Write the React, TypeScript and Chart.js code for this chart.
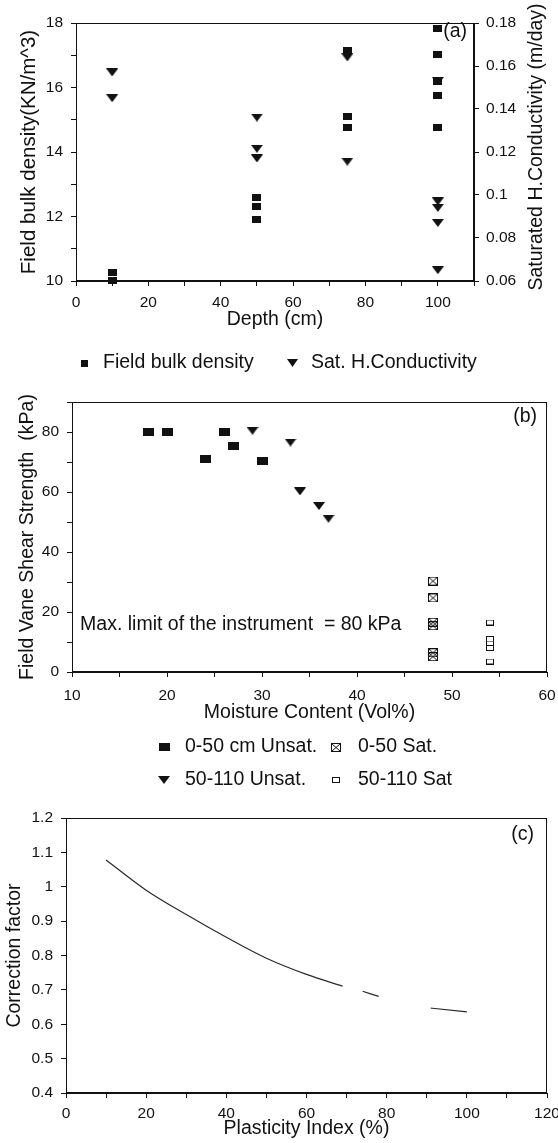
import React, { useEffect, useRef } from 'react';
import { Chart, registerables } from 'chart.js';

Chart.register(...registerables);

const FONT = "'Liberation Sans', Arial, sans-serif";
const INK = '#111';

// ---------- Panel (a): depth profile ----------
const depthBulk = [10, 10, 50, 50, 50, 75, 75, 75, 100, 100, 100, 100, 100];
const bulkDensity = [10.25, 10.02, 12.6, 12.3, 11.9, 17.16, 15.1, 14.75, 17.84, 17.03, 16.2, 15.74, 14.75];
const depthKsat = [10, 10, 50, 50, 50, 75, 75, 100, 100, 100, 100, 100];
const satConductivity = [0.157, 0.145, 0.136, 0.1215, 0.117, 0.164, 0.1155, 0.153, 0.097, 0.094, 0.087, 0.065];
const depthTickValues = [0, 10, 20, 30, 40, 50, 60, 70, 80, 90, 100, 110];
const depthTickLabels = [0, 20, 40, 60, 80, 100];
const bulkTickValues = [10, 11, 12, 13, 14, 15, 16, 17, 18];
const bulkTickLabels = [10, 12, 14, 16, 18];
const ksatTickValues = [0.06, 0.08, 0.1, 0.12, 0.14, 0.16, 0.18];

// ---------- Panel (b): vane shear strength ----------
const unsat0to50Moisture = [18, 20, 24, 26, 27, 30];
const unsat0to50Strength = [80, 80, 71, 80, 75.3, 70.2];
const sat0to50Moisture = [48, 48, 48, 48, 48, 48];
const sat0to50Strength = [30.3, 24.7, 16.6, 15.4, 6.4, 5.1];
const unsat50to110Moisture = [29, 33, 34, 36, 37];
const unsat50to110Strength = [80.4, 76.5, 60.2, 55.3, 51.1];
const sat50to110Moisture = [54, 54, 54, 54, 54];
const sat50to110Strength = [16.5, 11, 9.5, 8, 3.5];
const moistureTickValues = [10, 15, 20, 25, 30, 35, 40, 45, 50, 55, 60];
const moistureTickLabels = [10, 20, 30, 40, 50, 60];
const strengthTickValues = [0, 10, 20, 30, 40, 50, 60, 70, 80, 90];
const strengthTickLabels = [0, 20, 40, 60, 80];

// ---------- Panel (c): correction factor ----------
const plasticityIndex = [10, 20, 30, 40, 50, 60, 69, 71.5, 74, 78, 85, 91, 100];
const correctionFactor = [1.078, 0.99, 0.919, 0.853, 0.792, 0.745, 0.711, null, 0.696, 0.681, null, 0.647, 0.636];
const piTickValues = [0, 10, 20, 30, 40, 50, 60, 70, 80, 90, 100, 110, 120];
const piTickLabels = [0, 20, 40, 60, 80, 100, 120];
const cfTickValues = [0.4, 0.5, 0.6, 0.7, 0.8, 0.9, 1.0, 1.1, 1.2];

Chart.defaults.font.family = FONT;
Chart.defaults.color = INK;

function makeMarker(kind: string, w: number, h: number): HTMLCanvasElement {
  const c = document.createElement('canvas');
  c.width = w;
  c.height = h;
  const g = c.getContext('2d')!;
  g.fillStyle = INK;
  g.strokeStyle = INK;
  g.lineWidth = 1;
  if (kind === 'square') {
    g.fillRect(0, 0, w, h);
  } else if (kind === 'triangle') {
    g.beginPath();
    g.moveTo(0, 0);
    g.lineTo(w, 0);
    g.lineTo(w / 2, h);
    g.closePath();
    g.fill();
  } else if (kind === 'boxx') {
    g.strokeRect(0.5, 0.5, w - 1, h - 1);
    g.beginPath();
    g.moveTo(0.5, 0.5);
    g.lineTo(w - 0.5, h - 0.5);
    g.moveTo(w - 0.5, 0.5);
    g.lineTo(0.5, h - 0.5);
    g.stroke();
  } else if (kind === 'open') {
    g.fillStyle = '#fff';
    g.fillRect(0, 0, w, h);
    g.strokeRect(0.5, 0.5, w - 1, h - 1);
  }
  return c;
}

type TextItem = { text: string; x: number; y: number; size?: number; align?: CanvasTextAlign; rotate?: number; data?: boolean };
type LegendItem = { dataset: number; marker: HTMLCanvasElement; x: number; y: number; textX: number };

function makeExtras(texts: TextItem[], legend: LegendItem[]) {
  return {
    id: 'extras',
    afterDraw(chart: any) {
      const ctx: CanvasRenderingContext2D = chart.ctx;
      const { left, top, right, bottom } = chart.chartArea;
      ctx.save();
      ctx.strokeStyle = INK;
      ctx.lineWidth = 1;
      ctx.strokeRect(Math.round(left) + 0.5, Math.round(top) + 0.5, Math.round(right - left) - 1, Math.round(bottom - top) - 1);
      texts.forEach((t) => {
        ctx.save();
        ctx.font = `${t.size || 19.5}px ${FONT}`;
        ctx.fillStyle = INK;
        ctx.textAlign = t.align || 'left';
        ctx.textBaseline = 'middle';
        let x = t.x;
        let y = t.y;
        if (t.data) {
          x = chart.scales.x.getPixelForValue(t.x);
          y = chart.scales.y.getPixelForValue(t.y);
        }
        ctx.translate(x, y);
        if (t.rotate) ctx.rotate(t.rotate);
        ctx.fillText(t.text, 0, 0);
        ctx.restore();
      });
      legend.forEach((item) => {
        const ds = chart.data.datasets[item.dataset];
        const m = item.marker;
        ctx.drawImage(m, Math.round(item.x - m.width / 2), Math.round(item.y - m.height / 2));
        ctx.font = `19.5px ${FONT}`;
        ctx.fillStyle = INK;
        ctx.textAlign = 'left';
        ctx.textBaseline = 'middle';
        ctx.fillText(ds.label, item.textX, item.y);
      });
      ctx.restore();
    },
  };
}

const tickFont = { family: FONT, size: 15.5 };
const titleFont = { family: FONT, size: 19.5 };

function axisBase(values: number[], labels: number[] | null, pad: number, fmt?: (v: number) => string) {
  return {
    type: 'linear' as const,
    afterBuildTicks: (s: any) => {
      s.ticks = values.map((v) => ({ value: v }));
    },
    ticks: {
      autoSkip: false,
      maxRotation: 0,
      font: tickFont,
      color: INK,
      padding: pad,
      callback: (v: any) => {
        const n = Number(v);
        if (labels && !labels.some((l) => Math.abs(l - n) < 1e-9)) return '';
        return fmt ? fmt(n) : String(Number(n.toFixed(2)));
      },
    },
    grid: { drawOnChartArea: false, drawTicks: true, tickLength: 5, color: INK, lineWidth: 1 },
    border: { display: true, color: INK, width: 1 },
  };
}

function xy(xs: number[], ys: (number | null)[]) {
  return xs.map((x, i) => ({ x, y: ys[i] }));
}

function configA() {
  const sq = makeMarker('square', 9, 7);
  const tri = makeMarker('triangle', 12, 8);
  return {
    type: 'scatter',
    data: {
      datasets: [
        { label: 'Field bulk density', data: xy(depthBulk, bulkDensity), yAxisID: 'y', pointStyle: sq, pointRadius: 5, clip: false },
        { label: 'Sat. H.Conductivity', data: xy(depthKsat, satConductivity), yAxisID: 'y2', pointStyle: tri, pointRadius: 5, clip: false },
      ],
    },
    options: {
      animation: false,
      responsive: false,
      events: [],
      layout: { padding: { left: 0, right: 0, top: 23, bottom: 48.3 } },
      plugins: { legend: { display: false }, tooltip: { enabled: false } },
      scales: {
        x: {
          ...axisBase(depthTickValues, depthTickLabels, 7),
          min: 0,
          max: 110,
          title: { display: true, text: 'Depth (cm)', font: titleFont, color: INK, padding: 0 },
          afterFit: (s: any) => {
            s.height = 50.7;
            s.paddingLeft = 0;
            s.paddingRight = 0;
          },
        },
        y: {
          ...axisBase(bulkTickValues, bulkTickLabels, 8),
          position: 'left',
          min: 10,
          max: 18,
          title: { display: true, text: 'Field bulk density(KN/m^3)', font: { family: FONT, size: 20.5 }, color: INK, padding: { top: 16.7, bottom: 0 } },
          afterFit: (s: any) => {
            s.width = 76;
            s.paddingTop = 0;
            s.paddingBottom = 0;
          },
        },
        y2: {
          ...axisBase(ksatTickValues, null, 7),
          position: 'right',
          min: 0.06,
          max: 0.18,
          afterFit: (s: any) => {
            s.width = 84;
            s.paddingTop = 0;
            s.paddingBottom = 0;
          },
        },
      },
    },
    plugins: [
      makeExtras(
        [
          { text: '(a)', x: 467, y: 32, align: 'right' },
          { text: 'Saturated H.Conductivity (m/day)', x: 537, y: 147, align: 'center', rotate: -Math.PI / 2 },
        ],
        [
          { dataset: 0, marker: makeMarker('square', 7, 7), x: 84, y: 363, textX: 103 },
          { dataset: 1, marker: makeMarker('triangle', 11, 8), x: 292, y: 363, textX: 311 },
        ]
      ),
    ],
  };
}

function configB() {
  const sq = makeMarker('square', 11, 8);
  const boxx = makeMarker('boxx', 10, 9);
  const tri = makeMarker('triangle', 12, 8);
  const open = makeMarker('open', 8, 6);
  return {
    type: 'scatter',
    data: {
      datasets: [
        { label: '0-50 cm Unsat.', data: xy(unsat0to50Moisture, unsat0to50Strength), pointStyle: sq, pointRadius: 5, clip: false },
        { label: '0-50 Sat.', data: xy(sat0to50Moisture, sat0to50Strength), pointStyle: boxx, pointRadius: 5, clip: false },
        { label: '50-110 Unsat.', data: xy(unsat50to110Moisture, unsat50to110Strength), pointStyle: tri, pointRadius: 5, clip: false },
        { label: '50-110 Sat', data: xy(sat50to110Moisture, sat50to110Strength), pointStyle: open, pointRadius: 5, clip: false },
      ],
    },
    options: {
      animation: false,
      responsive: false,
      events: [],
      layout: { padding: { left: 0, right: 11, top: 22, bottom: 75.3 } },
      plugins: { legend: { display: false }, tooltip: { enabled: false } },
      scales: {
        x: {
          ...axisBase(moistureTickValues, moistureTickLabels, 9),
          min: 10,
          max: 60,
          title: { display: true, text: 'Moisture Content (Vol%)', font: titleFont, color: INK, padding: 0 },
          afterFit: (s: any) => {
            s.height = 52.7;
            s.paddingLeft = 0;
            s.paddingRight = 0;
          },
        },
        y: {
          ...axisBase(strengthTickValues, strengthTickLabels, 8),
          min: 0,
          max: 90,
          title: { display: true, text: 'Field Vane Shear Strength  (kPa)', font: titleFont, color: INK, padding: { top: 16.3, bottom: 0 } },
          afterFit: (s: any) => {
            s.width = 72;
            s.paddingTop = 0;
            s.paddingBottom = 0;
          },
        },
      },
    },
    plugins: [
      makeExtras(
        [
          { text: '(b)', x: 537, y: 37, align: 'right' },
          { text: 'Max. limit of the instrument  = 80 kPa', x: 10.85, y: 15.7, data: true },
        ],
        [
          { dataset: 0, marker: sq, x: 164, y: 367, textX: 185 },
          { dataset: 1, marker: boxx, x: 336, y: 367, textX: 358 },
          { dataset: 2, marker: tri, x: 164, y: 400, textX: 185 },
          { dataset: 3, marker: open, x: 336, y: 400, textX: 358 },
        ]
      ),
    ],
  };
}

function configC() {
  return {
    type: 'line',
    data: {
      datasets: [
        {
          label: 'Correction factor',
          data: xy(plasticityIndex, correctionFactor),
          borderColor: '#2a2a2a',
          borderWidth: 1.2,
          pointRadius: 0,
          cubicInterpolationMode: 'monotone',
          spanGaps: false,
          fill: false,
        },
      ],
    },
    options: {
      animation: false,
      responsive: false,
      events: [],
      layout: { padding: { left: 0, right: 11, top: 18, bottom: 2.3 } },
      plugins: { legend: { display: false }, tooltip: { enabled: false } },
      scales: {
        x: {
          ...axisBase(piTickValues, piTickLabels, 6),
          min: 0,
          max: 120,
          title: { display: true, text: 'Plasticity Index (%)', font: titleFont, color: INK, padding: 0 },
          afterFit: (s: any) => {
            s.height = 47.7;
            s.paddingLeft = 0;
            s.paddingRight = 0;
          },
        },
        y: {
          ...axisBase(cfTickValues, null, 8, (v: number) => String(Number(v.toFixed(1)))),
          min: 0.4,
          max: 1.2,
          title: { display: true, text: 'Correction factor', font: titleFont, color: INK, padding: { top: 3.3, bottom: 0 } },
          afterFit: (s: any) => {
            s.width = 66;
            s.paddingTop = 0;
            s.paddingBottom = 0;
          },
        },
      },
    },
    plugins: [makeExtras([{ text: '(c)', x: 534, y: 35, align: 'right' }], [])],
  };
}

export default function App() {
  const aRef = useRef<HTMLCanvasElement>(null);
  const bRef = useRef<HTMLCanvasElement>(null);
  const cRef = useRef<HTMLCanvasElement>(null);

  useEffect(() => {
    const charts = [
      new Chart(aRef.current!, configA() as any),
      new Chart(bRef.current!, configB() as any),
      new Chart(cRef.current!, configC() as any),
    ];
    return () => charts.forEach((c) => c.destroy());
  }, []);

  return (
    <div style={{ position: 'absolute', left: 0, top: 0, width: 558, height: 1143, background: '#fff', overflow: 'hidden' }}>
      <canvas ref={aRef} width={558} height={380} style={{ position: 'absolute', left: 0, top: 0 }} />
      <canvas ref={bRef} width={558} height={420} style={{ position: 'absolute', left: 0, top: 380 }} />
      <canvas ref={cRef} width={558} height={343} style={{ position: 'absolute', left: 0, top: 800 }} />
    </div>
  );
}
